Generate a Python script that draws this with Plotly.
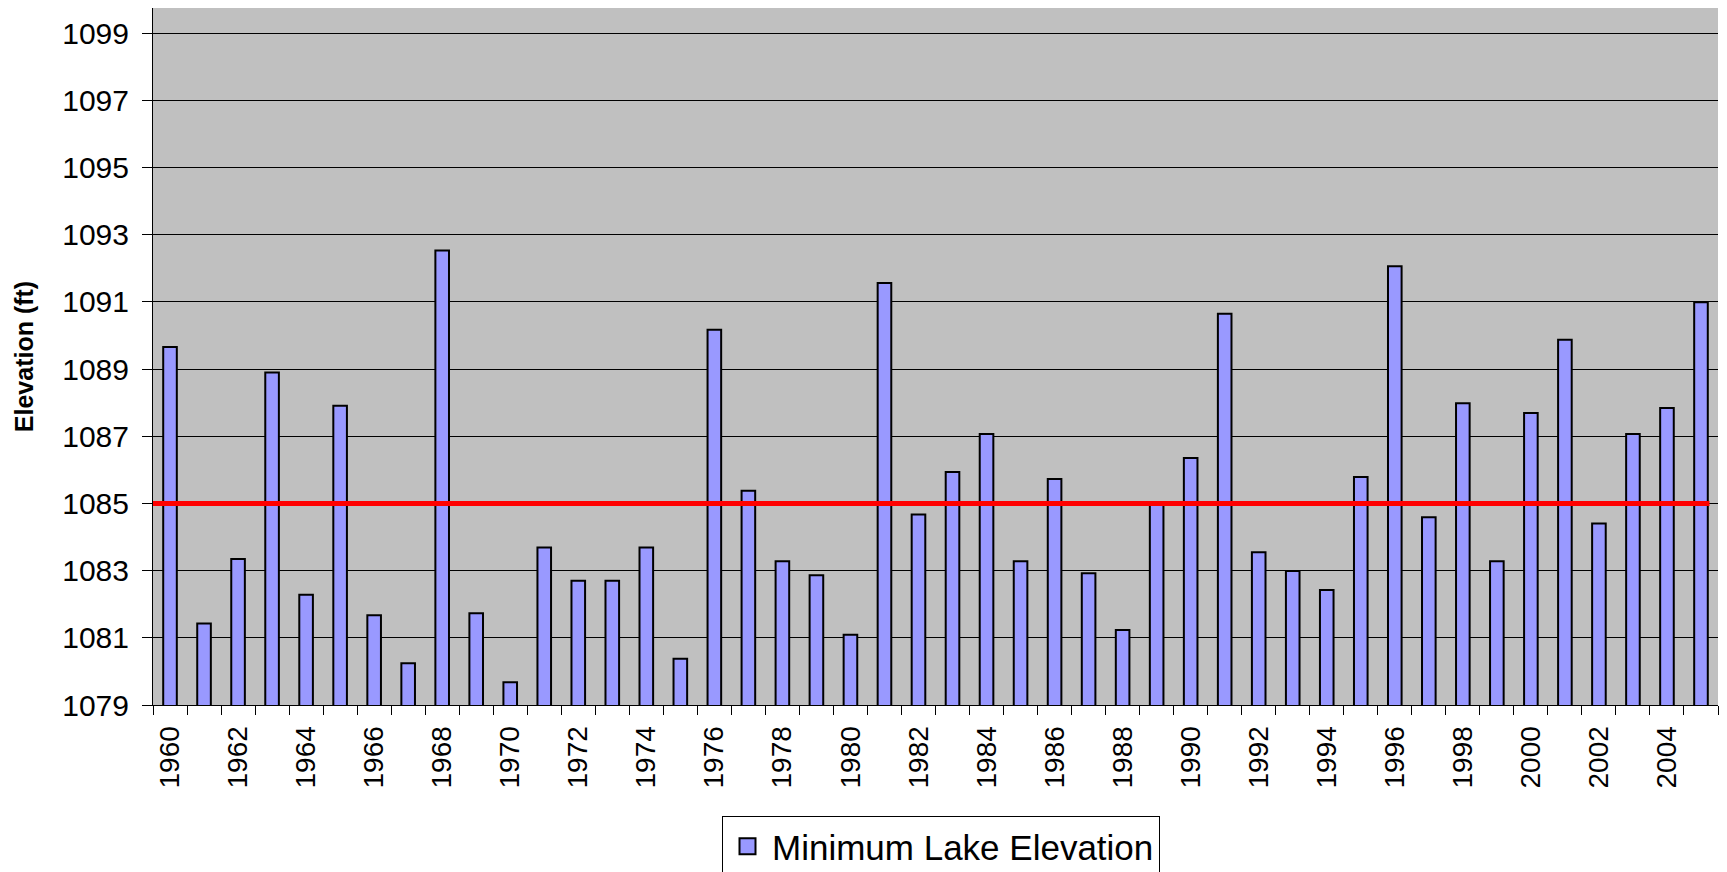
import plotly.graph_objects as go

years = list(range(1960, 2006))
min_elevation = [
    1089.66, 1081.43, 1083.35, 1088.90, 1082.28, 1087.91, 1081.67, 1080.24,
    1092.53, 1081.73, 1079.68, 1083.69, 1082.70, 1082.70, 1083.69, 1080.38,
    1090.17, 1085.38, 1083.28, 1082.86, 1081.09, 1091.56, 1084.67, 1085.94,
    1087.07, 1083.28, 1085.73, 1082.92, 1081.23, 1085.03, 1086.35, 1090.65,
    1083.55, 1082.99, 1082.42, 1085.79, 1092.06, 1084.59, 1087.98, 1083.28,
    1087.69, 1089.87, 1084.40, 1087.07, 1087.84, 1090.99,
]
threshold_x = [1959.5, 2005.25]
threshold_y = [1085, 1085]
tick_years = list(range(1960, 2005, 2))
tick_labels = [str(y) for y in tick_years]
y_ticks = list(range(1079, 1100, 2))

FONT = "Arial, 'Liberation Sans', sans-serif"
BAR_COLOR = "#9999FF"

fig = go.Figure()
fig.add_trace(go.Bar(
    x=years, y=min_elevation, width=0.4,
    marker=dict(color=BAR_COLOR, line=dict(color="black", width=2)),
    name="Minimum Lake Elevation", showlegend=False,
))
fig.add_trace(go.Scatter(
    x=threshold_x, y=threshold_y, mode="lines",
    line=dict(color="#FF0000", width=5), showlegend=False, hoverinfo="skip",
))
# legend entry
fig.add_trace(go.Scatter(
    x=[None], y=[None], mode="markers", name="Minimum Lake Elevation",
    marker=dict(symbol="square", size=16, color=BAR_COLOR,
                line=dict(color="black", width=2)),
))

fig.update_layout(
    width=1727, height=872,
    margin=dict(l=153, r=9, t=8, b=167, autoexpand=False),
    paper_bgcolor="white", plot_bgcolor="#C0C0C0",
    font=dict(family=FONT, color="black"),
    legend=dict(
        x=(722 - 153) / 1565, y=(705 - 816) / 697, xanchor="left", yanchor="top",
        bgcolor="white", bordercolor="black", borderwidth=1,
        font=dict(size=35, family=FONT), itemsizing="trace", itemwidth=39,
    ),
    xaxis=dict(
        range=[1959.5, 2005.5], tickmode="array", tickvals=tick_years,
        ticktext=tick_labels, tickangle=-90, tickfont=dict(size=28),
        ticks="", ticklabelstandoff=9, showgrid=False, zeroline=False,
        showline=True, linecolor="black", linewidth=1,
        minor=dict(tickmode="linear", tick0=1959.5, dtick=1, ticks="outside",
                   ticklen=9, tickcolor="black", tickwidth=1, showgrid=False),
    ),
    yaxis=dict(
        range=[1079, 1099.75], tickmode="array", tickvals=y_ticks,
        tickfont=dict(size=30), ticks="outside", ticklen=10, tickcolor="black",
        ticklabelstandoff=7,
        showgrid=True, gridcolor="black", gridwidth=1, zeroline=False,
        showline=True, linecolor="black", linewidth=1,
        title=dict(text="<b>Elevation (ft)</b>", font=dict(size=25), standoff=21),
    ),
    bargap=0.6,
)

fig.write_html("out.html", config={"displayModeBar": False},
               post_script="document.body.style.margin='0';")
